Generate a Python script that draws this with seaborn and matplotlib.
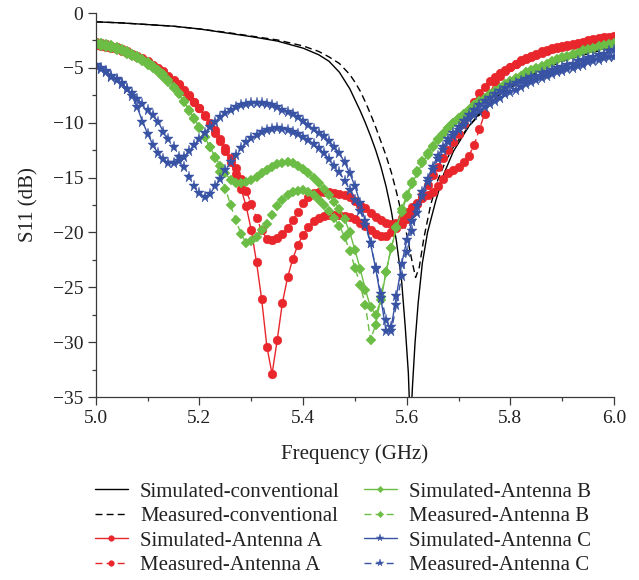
import matplotlib
matplotlib.use("Agg")
import matplotlib.pyplot as plt
from matplotlib.ticker import MultipleLocator, FormatStrFormatter
import seaborn as sns

# ---------------- data ----------------
freq = [5.00, 5.01, 5.02, 5.03, 5.04, 5.05, 5.06, 5.07, 5.08, 5.09,
        5.10, 5.11, 5.12, 5.13, 5.14, 5.15, 5.16, 5.17, 5.18, 5.19,
        5.20, 5.21, 5.22, 5.23, 5.24, 5.25, 5.26, 5.27, 5.28, 5.29,
        5.30, 5.31, 5.32, 5.33, 5.34, 5.35, 5.36, 5.37, 5.38, 5.39,
        5.40, 5.41, 5.42, 5.43, 5.44, 5.45, 5.46, 5.47, 5.48, 5.49,
        5.50, 5.51, 5.52, 5.53, 5.54, 5.55, 5.56, 5.57, 5.58, 5.59,
        5.60, 5.61, 5.62, 5.63, 5.64, 5.65, 5.66, 5.67, 5.68, 5.69,
        5.70, 5.71, 5.72, 5.73, 5.74, 5.75, 5.76, 5.77, 5.78, 5.79,
        5.80, 5.81, 5.82, 5.83, 5.84, 5.85, 5.86, 5.87, 5.88, 5.89,
        5.90, 5.91, 5.92, 5.93, 5.94, 5.95, 5.96, 5.97, 5.98, 5.99,
        6.00]

conv_sim_freq = [5.00, 5.05, 5.10, 5.15, 5.20, 5.25, 5.30, 5.35, 5.40, 5.43,
                 5.45, 5.47, 5.49, 5.50, 5.51, 5.52, 5.53, 5.54, 5.55, 5.56,
                 5.57, 5.58, 5.59, 5.597, 5.603, 5.607, 5.611, 5.616, 5.622, 5.63,
                 5.64, 5.656, 5.672, 5.69, 5.72, 5.75, 5.80, 5.85, 5.90, 5.95,
                 6.00]
conv_sim = [-0.8, -0.9, -1.05, -1.2, -1.45, -1.8, -2.15, -2.55, -3.2, -3.8,
            -4.4, -5.4, -6.9, -7.9, -8.9, -10.0, -11.2, -12.5, -14.0, -15.8,
            -18.0, -20.8, -24.4, -28.6, -32.8, -38.0, -34.0, -30.0, -26.4, -22.8,
            -20.0, -17.1, -14.6, -12.6, -10.3, -8.6, -6.6, -5.3, -4.3, -3.6,
            -3.0]

conv_meas_freq = [5.00, 5.05, 5.10, 5.15, 5.20, 5.25, 5.30, 5.35, 5.40, 5.43,
                  5.45, 5.47, 5.49, 5.50, 5.51, 5.52, 5.53, 5.54, 5.55, 5.56,
                  5.57, 5.58, 5.59, 5.60, 5.61, 5.617, 5.624, 5.633, 5.646, 5.66,
                  5.675, 5.69, 5.72, 5.75, 5.80, 5.85, 5.90, 5.95, 6.00]
conv_meas = [-0.8, -0.9, -1.05, -1.2, -1.45, -1.75, -2.1, -2.45, -3.0, -3.5,
             -4.0, -4.6, -5.6, -6.3, -7.1, -8.1, -9.2, -10.4, -11.7, -13.0,
             -14.5, -16.3, -18.3, -20.2, -22.6, -24.1, -23.2, -20.5, -17.5, -15.2,
             -13.5, -12.2, -10.3, -8.8, -6.8, -5.4, -4.4, -3.7, -3.1]

a_sim = [-2.6, -2.7, -2.8, -3.0, -3.1, -3.3, -3.5, -3.7, -3.9, -4.1,
         -4.4, -4.7, -5.0, -5.3, -5.7, -6.1, -6.5, -7.0, -7.5, -8.1,
         -8.7, -9.4, -10.1, -10.9, -11.7, -12.6, -13.6, -14.7, -16.0, -17.6,
         -19.8, -22.7, -26.1, -30.4, -32.9, -29.8, -26.4, -24.1, -22.4, -21.1,
         -20.2, -19.5, -19.0, -18.7, -18.5, -18.4, -18.4, -18.4, -18.5, -18.6,
         -18.8, -19.1, -19.4, -19.8, -20.1, -20.3, -20.3, -20.0, -19.6, -19.2,
         -18.8, -18.2, -17.4, -16.6, -15.7, -14.8, -14.0, -13.2, -12.5, -11.8,
         -11.0, -10.1, -9.1, -8.1, -7.3, -6.7, -6.2, -5.8, -5.5, -5.2,
         -4.9, -4.6, -4.4, -4.2, -4.0, -3.8, -3.6, -3.5, -3.3, -3.2,
         -3.1, -3.0, -2.9, -2.8, -2.7, -2.6, -2.5, -2.4, -2.3, -2.25,
         -2.2]

a_meas = [-2.9, -3.0, -3.1, -3.2, -3.3, -3.5, -3.6, -3.8, -4.0, -4.2,
          -4.5, -4.8, -5.1, -5.4, -5.8, -6.2, -6.6, -7.1, -7.6, -8.1,
          -8.7, -9.3, -10.0, -10.7, -11.5, -12.3, -13.2, -14.1, -15.1, -16.2,
          -17.4, -18.7, -19.8, -20.6, -20.7, -20.5, -20.1, -19.6, -18.9, -18.1,
          -17.3, -16.8, -16.4, -16.3, -16.3, -16.3, -16.4, -16.5, -16.6, -16.8,
          -17.1, -17.5, -17.8, -18.2, -18.6, -18.9, -19.1, -19.2, -19.1, -18.7,
          -18.1, -17.7, -17.3, -16.9, -16.6, -16.3, -15.8, -15.1, -14.6, -14.3,
          -14.0, -13.6, -13.0, -12.0, -10.6, -9.2, -7.4, -6.3, -5.7, -5.3,
          -4.9, -4.6, -4.3, -4.1, -3.9, -3.7, -3.5, -3.4, -3.2, -3.1,
          -3.0, -2.9, -2.8, -2.7, -2.6, -2.5, -2.4, -2.3, -2.2, -2.15,
          -2.1]

b_sim = [-2.6, -2.7, -2.8, -2.9, -3.1, -3.3, -3.5, -3.7, -3.9, -4.2,
         -4.5, -4.8, -5.2, -5.6, -6.1, -6.7, -7.3, -8.0, -8.8, -9.6,
         -10.4, -11.3, -12.2, -13.1, -13.9, -14.6, -15.2, -15.5, -15.5, -15.4,
         -15.2, -14.9, -14.6, -14.3, -14.0, -13.8, -13.7, -13.6, -13.7, -13.9,
         -14.2, -14.6, -15.0, -15.5, -16.0, -16.6, -17.2, -17.9, -18.8, -20.0,
         -21.6, -23.3, -25.2, -26.8, -27.5, -26.2, -23.6, -21.4, -19.6, -18.1,
         -16.8, -15.6, -14.6, -13.7, -12.9, -12.2, -11.6, -11.0, -10.5, -10.0,
         -9.6, -9.2, -8.8, -8.4, -8.0, -7.7, -7.4, -7.1, -6.8, -6.5,
         -6.2, -5.9, -5.7, -5.4, -5.2, -5.0, -4.8, -4.6, -4.4, -4.2,
         -4.0, -3.9, -3.7, -3.6, -3.4, -3.3, -3.2, -3.0, -2.9, -2.8,
         -2.7]

b_meas = [-2.9, -3.0, -3.1, -3.2, -3.4, -3.5, -3.7, -3.9, -4.1, -4.4,
          -4.7, -5.0, -5.4, -5.8, -6.3, -6.8, -7.4, -8.1, -8.9, -9.7,
          -10.5, -11.3, -12.2, -13.2, -14.5, -16.0, -17.5, -18.9, -20.1, -21.0,
          -20.8, -20.4, -19.8, -19.2, -18.4, -17.6, -17.0, -16.6, -16.3, -16.2,
          -16.1, -16.3, -16.6, -17.0, -17.5, -18.0, -18.7, -19.4, -20.4, -21.7,
          -23.2, -24.8, -26.6, -29.8, -28.4, -25.9, -23.6, -21.4, -19.5, -17.9,
          -16.6, -15.4, -14.4, -13.5, -12.8, -12.1, -11.5, -11.0, -10.5, -10.0,
          -9.6, -9.2, -8.8, -8.4, -8.1, -7.8, -7.5, -7.2, -6.9, -6.6,
          -6.3, -6.0, -5.8, -5.5, -5.3, -5.1, -4.9, -4.7, -4.5, -4.3,
          -4.1, -4.0, -3.8, -3.7, -3.5, -3.4, -3.3, -3.1, -3.0, -2.9,
          -2.8]

c_sim = [-4.7, -5.0, -5.3, -5.7, -6.0, -6.4, -6.9, -7.6, -8.6, -9.9,
         -11.0, -12.0, -12.8, -13.3, -13.7, -13.7, -13.5, -13.1, -12.6, -12.0,
         -11.5, -10.9, -10.4, -9.9, -9.5, -9.1, -8.8, -8.6, -8.4, -8.3,
         -8.2, -8.2, -8.2, -8.3, -8.4, -8.6, -8.8, -9.0, -9.2, -9.5,
         -9.8, -10.2, -10.6, -10.9, -11.2, -11.7, -12.2, -12.8, -13.6, -14.6,
         -15.8, -17.3, -19.0, -21.0, -23.3, -26.0, -29.0, -28.6, -25.8, -22.9,
         -20.7, -19.0, -17.6, -16.3, -15.1, -14.0, -13.0, -12.2, -11.5, -10.9,
         -10.4, -9.8, -9.3, -8.8, -8.4, -8.0, -7.7, -7.4, -7.1, -6.8,
         -6.6, -6.4, -6.2, -6.0, -5.8, -5.7, -5.5, -5.4, -5.2, -5.0,
         -4.9, -4.7, -4.6, -4.4, -4.3, -4.1, -4.0, -3.8, -3.7, -3.5,
         -3.4]

c_meas = [-4.8, -5.1, -5.4, -5.8, -6.1, -6.5, -6.9, -7.3, -7.8, -8.3,
          -8.8, -9.3, -9.9, -10.8, -11.5, -12.2, -13.1, -14.0, -14.9, -15.8,
          -16.4, -16.8, -16.5, -15.8, -15.1, -14.3, -13.6, -12.9, -12.3, -11.8,
          -11.4, -11.1, -10.8, -10.7, -10.6, -10.5, -10.6, -10.7, -10.8, -11.0,
          -11.3, -11.6, -11.9, -12.3, -12.8, -13.3, -13.9, -14.5, -15.3, -16.1,
          -17.0, -18.0, -19.3, -21.0, -23.2, -25.6, -28.0, -29.0, -26.6, -24.0,
          -21.8, -19.9, -18.2, -16.7, -15.4, -14.3, -13.3, -12.5, -11.8, -11.2,
          -10.7, -10.2, -9.7, -9.3, -8.9, -8.6, -8.3, -8.0, -7.7, -7.4,
          -7.2, -7.0, -6.7, -6.5, -6.3, -6.1, -5.9, -5.7, -5.6, -5.4,
          -5.3, -5.1, -5.0, -4.8, -4.7, -4.5, -4.4, -4.3, -4.1, -4.0,
          -4.0]

labels = ["Simulated-conventional", "Measured-conventional",
          "Simulated-Antenna A", "Measured-Antenna A",
          "Simulated-Antenna B", "Measured-Antenna B",
          "Simulated-Antenna C", "Measured-Antenna C"]
x_ticks = [5.0, 5.2, 5.4, 5.6, 5.8, 6.0]
y_ticks = [0, -5, -10, -15, -20, -25, -30, -35]

# ---------------- style ----------------
sns.set_theme(style="ticks")
plt.rcParams["font.family"] = ["Liberation Serif", "DejaVu Serif"]
plt.rcParams["axes.unicode_minus"] = True

RED = "#E8262B"
GREEN = "#6CBD45"
BLUE = "#3953A4"
DASH = (5, 3)

fig = plt.figure(figsize=(6.39, 5.80), dpi=100)
ax = fig.add_axes([0.150, 0.3155, 0.811, 0.662])

sns.lineplot(x=conv_sim_freq, y=conv_sim, ax=ax, color="black", lw=1.0,
             label=labels[0])
sns.lineplot(x=conv_meas_freq, y=conv_meas, ax=ax, color="black", lw=1.0,
             dashes=DASH, label=labels[1])

series = [
    (a_sim, RED, "o", 6.3, None, labels[2]),
    (a_meas, RED, "o", 6.3, DASH, labels[3]),
    (b_sim, GREEN, "D", 5.0, None, labels[4]),
    (b_meas, GREEN, "D", 5.0, DASH, labels[5]),
    (c_sim, BLUE, "*", 8.3, None, labels[6]),
    (c_meas, BLUE, "*", 8.3, DASH, labels[7]),
]
for vals, col, mk, ms, ds, lab in series:
    kw = dict(x=freq, y=vals, ax=ax, color=col, lw=1.0, marker=mk,
              markersize=ms, markeredgewidth=0.3, markeredgecolor=col,
              label=lab)
    if ds is not None:
        kw["dashes"] = ds
    sns.lineplot(**kw)

ax.set_xlim(5.0, 6.0)
ax.set_ylim(-35, 0)
ax.set_xticks(x_ticks)
ax.set_yticks(y_ticks)
ax.xaxis.set_major_formatter(FormatStrFormatter("%.1f"))
ax.xaxis.set_minor_locator(MultipleLocator(0.1))
ax.yaxis.set_minor_locator(MultipleLocator(2.5))

for side in ["top", "right"]:
    ax.spines[side].set_visible(False)
for side in ["left", "bottom"]:
    ax.spines[side].set_color("#3a3a3a")
    ax.spines[side].set_linewidth(0.9)
ax.tick_params(which="major", direction="out", length=5.5, width=0.9,
               color="#3a3a3a", labelsize=14, labelcolor="#222222")
ax.tick_params(which="minor", direction="out", length=3, width=0.9,
               color="#3a3a3a")

ax.set_xlabel("Frequency (GHz)", fontsize=15, labelpad=13, color="#222222")
ax.set_ylabel("S11 (dB)", fontsize=15, labelpad=10, color="#222222")

leg = ax.legend(loc="upper left", bbox_to_anchor=(0.148, 0.169),
                bbox_transform=fig.transFigure, ncol=2, frameon=False,
                fontsize=15, handlelength=1.6, handletextpad=0.58,
                columnspacing=1.15, labelspacing=0.24, borderpad=0,
                borderaxespad=0, markerscale=0.65)
for t in leg.get_texts():
    t.set_color("#222222")

fig.savefig("out.png", dpi=100)
